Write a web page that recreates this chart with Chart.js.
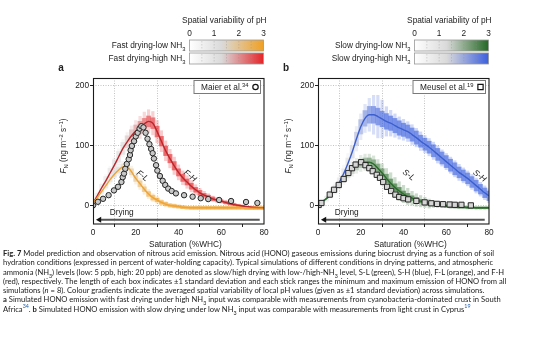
<!DOCTYPE html>
<html>
<head>
<meta charset="utf-8">
<script src="https://cdn.jsdelivr.net/npm/chart.js@4.4.1/dist/chart.umd.min.js"></script>
<style>
    body { margin: 0; background: #fff; width: 554px; height: 339px; overflow: hidden; position: relative; }
    canvas { position: absolute; top: 0; }
    #panelA { left: 52px; }
    #panelB { left: 277px; }
    .caption {
        position: absolute; left: 3px; top: 249px;
        font-family: Lato, "Noto Sans", sans-serif; font-size: 7.6px; line-height: 9.25px;
        color: #222; white-space: nowrap;
    }
    .caption sub, .caption sup { font-size: 70%; line-height: 0; }
    .caption .ref { color: #1d5fb0; }
</style>
</head>
<body>
<canvas id="panelA" width="226" height="250"></canvas>
<canvas id="panelB" width="226" height="250"></canvas>
<div class="caption">
<b>Fig. 7</b> Model prediction and observation of nitrous acid emission. Nitrous acid (HONO) gaseous emissions during biocrust drying as a function of soil<br>
hydration conditions (expressed in percent of water-holding capacity). Typical simulations of different conditions in drying patterns, and atmospheric<br>
ammonia (NH<sub>3</sub>) levels (low: 5 ppb, high: 20 ppb) are denoted as slow/high drying with low-/high-NH<sub>3</sub> level, S-L (green), S-H (blue), F-L (orange), and F-H<br>
(red), respectively. The length of each box indicates ±1 standard deviation and each stick ranges the minimum and maximum emission of HONO from all<br>
simulations (<i>n</i> = 8). Colour gradients indicate the averaged spatial variability of local pH values (given as ±1 standard deviation) across simulations.<br>
<b>a</b> Simulated HONO emission with fast drying under high NH<sub>3</sub> input was comparable with measurements from cyanobacteria-dominated crust in South<br>
Africa<sup class="ref">34</sup>. <b>b</b> Simulated HONO emission with slow drying under low NH<sub>3</sub> input was comparable with measurements from light crust in Cyprus<sup class="ref">19</sup>
</div>
<script>
const FONT = '"Liberation Sans", Arial, sans-serif';
const INK = '#222';

// saturation (%WHC) of each simulated output step
const sat = [0, 2, 4, 6, 8, 10, 12, 14, 16, 18, 20, 22, 24, 26, 28, 30, 32, 34, 36, 38, 40,
    42, 44, 46, 48, 50, 52, 54, 56, 58, 60, 62, 64, 66, 68, 70, 72, 74, 76, 78, 80];

// fast drying, low NH3 (F-L): mean flux, box half-length (sd), stick half-length, pH variability
const flMean = [5, 14, 24, 34, 44, 53, 60, 65, 65, 57, 46, 37, 28, 20, 14, 10, 6, 3, 1, 0, -1,
    -2, -2.5, -3, -3, -3, -3, -3, -3, -3, -3, -3, -3, -3, -3, -3, -3.5, -3.5, -3.5, -3.5, -3.5];
const flSd = [1, 2, 3, 4, 4, 5, 5, 5, 5, 5, 5, 5, 4, 4, 4, 3, 3, 3, 2.5, 2.5, 2.5,
    2.5, 2.5, 2.5, 2.5, 2.5, 2.5, 2.5, 2.5, 2.5, 2.5, 2.5, 2.5, 2.5, 2.5, 2.5, 2.5, 2.5, 2.5, 2.5, 2.5];
const flSpan = [2, 4, 6, 7, 8, 9, 10, 10, 10, 10, 10, 10, 9, 8, 7, 6, 5, 5, 4, 4, 3,
    3, 3, 3, 3, 3, 3, 3, 3, 3, 3, 3, 3, 3, 3, 3, 3, 3, 3, 3, 3];
const flPh = [0.8, 0.9, 1.0, 1.1, 1.2, 1.3, 1.4, 1.5, 1.6, 1.8, 2.0, 2.2, 2.4, 2.6, 2.8, 3, 3, 3, 3, 3, 3,
    3, 3, 3, 3, 3, 3, 3, 3, 3, 3, 3, 3, 3, 3, 3, 3, 3, 3, 3, 3];

// fast drying, high NH3 (F-H)
const fhMean = [5, 17, 30, 42, 55, 68, 82, 96, 107, 117, 125, 131, 137, 141, 138, 124, 108, 92, 79, 67, 56,
    47, 40, 33, 27, 22, 18, 15, 12, 10, 8, 6, 4, 2.5, 1, 0, -1, -2, -2.5, -3, -3];
const fhSd = [2, 4, 6, 7, 8, 9, 9, 10, 10, 10, 10, 10, 9, 9, 9, 9, 8, 8, 7, 7, 6,
    6, 5, 5, 4, 4, 3, 3, 3, 2, 2, 2, 2, 1.5, 1.5, 1.5, 1, 1, 1, 1, 1];
const fhSpan = [3, 6, 9, 11, 12, 13, 14, 15, 16, 17, 18, 19, 20, 20, 20, 19, 18, 17, 16, 15, 13,
    12, 11, 10, 9, 8, 7, 6, 5, 5, 4, 4, 3, 3, 2.5, 2, 2, 2, 2, 2, 2];
const fhPh = [0.6, 0.7, 0.8, 0.9, 1.0, 1.1, 1.2, 1.3, 1.5, 1.7, 2.0, 2.3, 2.5, 2.7, 2.8, 2.9, 3, 3, 3, 3, 3,
    3, 3, 3, 3, 3, 3, 3, 3, 3, 3, 3, 3, 3, 3, 3, 3, 3, 3, 3, 3];

// slow drying, low NH3 (S-L)
const slMean = [3, 7, 13, 20, 28, 36, 45, 53, 61, 67, 71, 73, 73, 70, 63, 55, 46, 38, 31, 25, 20,
    16, 13, 10, 8, 6, 4, 3, 2, 1, 0, -1, -1.5, -2, -2, -2.5, -2.5, -3, -3, -3, -3];
const slSd = [1, 2, 3, 4, 5, 5, 6, 6, 7, 7, 7, 7, 7, 7, 7, 7, 7, 7, 6, 6, 5,
    5, 4, 4, 3, 3, 3, 2, 2, 2, 2, 2, 1.5, 1.5, 1.5, 1.5, 1.5, 1.5, 1.5, 1.5, 1.5];
const slSpan = [2, 3, 5, 6, 8, 9, 10, 11, 12, 13, 14, 14, 14, 14, 15, 16, 17, 18, 17, 16, 15,
    14, 12, 11, 10, 9, 8, 6, 5, 4, 3, 3, 3, 3, 3, 3, 3, 3, 3, 3, 3];
const slPh = [0.6, 0.7, 0.8, 0.9, 1.0, 1.1, 1.2, 1.4, 1.6, 1.8, 2.0, 2.2, 2.4, 2.5, 2.6, 2.7, 2.8, 2.9, 3, 3, 3,
    3, 3, 3, 3, 3, 3, 3, 3, 3, 3, 3, 3, 3, 3, 3, 3, 3, 3, 3, 3];

// slow drying, high NH3 (S-H)
const shMean = [5, 8, 12, 20, 29, 40, 54, 71, 90, 112, 132, 146, 152, 152, 149, 145, 141, 138, 134, 130, 127,
    124, 119, 114, 108, 103, 98, 92, 86, 80, 74, 68, 62, 56, 51, 46, 40, 34, 28, 22, 17];
const shSd = [2, 3, 4, 5, 6, 7, 8, 9, 10, 11, 12, 13, 14, 14, 14, 13, 13, 12, 12, 12, 11,
    11, 11, 11, 10, 10, 10, 10, 10, 10, 10, 10, 10, 9, 9, 9, 9, 9, 8, 8, 8];
const shSpan = [3, 5, 7, 9, 11, 13, 15, 17, 19, 21, 22, 24, 28, 33, 36, 32, 25, 22, 20, 19, 18,
    17, 17, 16, 16, 15, 15, 15, 15, 14, 14, 14, 14, 14, 13, 13, 13, 13, 12, 12, 12];
const shPh = [0.4, 0.5, 0.6, 0.7, 0.8, 0.9, 1.0, 1.2, 1.4, 1.7, 2.0, 2.3, 2.5, 2.7, 2.8, 2.9, 3, 3, 3, 3, 3,
    3, 3, 3, 3, 3, 3, 3, 3, 3, 3, 3, 3, 3, 3, 3, 3, 3, 3, 3, 3];

// measured HONO flux, cyanobacteria-dominated crust (Maier et al.)
const maierSat = [0, 2.3, 4.7, 7.3, 9.8, 11.7, 13.3, 13.9, 14.5, 15.1, 15.8, 16.7, 17.3, 17.6, 18.2, 19.2,
    20, 20.9, 21.8, 22.6, 23.6, 24.6, 25.5, 26.4, 27.2, 27.9, 28.5, 29.5, 30.1, 31.3, 32.6, 33.8,
    35.2, 36.8, 38.8, 42.6, 46.6, 50.4, 53.9, 59, 64.6, 71.6, 76.9];
const maierFlux = [1, 7, 12, 18, 26, 32, 40, 48, 54, 62, 70, 78, 85, 93, 100, 108,
    116, 122, 129, 133, 131, 122, 112, 103, 95, 88, 79, 68, 59, 50, 42, 35,
    29, 25, 21, 18, 15.5, 13, 11.5, 10, 8.3, 6.7, 5];

// measured HONO flux, light crust (Meusel et al.)
const meuselSat = [0.3, 1.6, 5.5, 7.5, 9.7, 12, 14.2, 15.9, 17.6, 20.2, 22.2, 24, 25.6, 27.5, 29, 30.5,
    32.3, 34.2, 36.2, 38, 40, 42.2, 46, 49.9, 53, 55.7, 58.5, 61.6, 64, 67.1, 71.5];
const meuselFlux = [1.7, 5, 19, 27, 35, 45, 55, 63, 69, 73, 68, 63, 58, 52, 47, 40,
    32, 25, 19, 15, 13, 11, 8.5, 6, 4.5, 3.5, 3, 2.5, 2, 2, 1];

const satTicks = [0, 20, 40, 60, 80];
const fluxTicks = [0, 100, 200];
const phTicks = [0, 1, 2, 3];
const dryingArrow = [78, 3];   // saturation where the drying arrow starts / ends
const dryingLevel = -23;

const PH_GREY = [218, 218, 218];
const PH_GREY_AT = 1.3;

/**
 * Colour of a box for a given spatial pH variability (0-3)
 */
function phColour(full, v, alpha) {
    let rgb;
    if (v <= PH_GREY_AT) {
        const t = v / PH_GREY_AT;
        rgb = [0, 1, 2].map(k => 255 + (PH_GREY[k] - 255) * t);
    } else {
        const t = (v - PH_GREY_AT) / (3 - PH_GREY_AT);
        rgb = [0, 1, 2].map(k => PH_GREY[k] + (full[k] - PH_GREY[k]) * t);
    }
    return `rgba(${rgb.map(Math.round).join(',')},${alpha})`;
}

function partFont(p, size) {
    const s = (p.sub || p.sup) ? size * 0.7 : size;
    return `${p.italic ? 'italic ' : ''}${p.bold ? 'bold ' : ''}${s}px ${FONT}`;
}

/**
 * Draw text with sub/superscript pieces on one baseline
 */
function drawRich(ctx, parts, x, y, size, align) {
    let w = 0;
    parts.forEach(p => { ctx.font = partFont(p, size); w += ctx.measureText(p.t).width; });
    let cx = align === 'right' ? x - w : (align === 'center' ? x - w / 2 : x);
    ctx.textAlign = 'left';
    ctx.textBaseline = 'alphabetic';
    parts.forEach(p => {
        ctx.font = partFont(p, size);
        const dy = p.sub ? size * 0.28 : (p.sup ? -size * 0.38 : 0);
        ctx.fillText(p.t, cx, y + dy);
        cx += ctx.measureText(p.t).width;
    });
    return w;
}

class HonoPanel {
    constructor(canvasId, options = {}) {
        this.canvasId = canvasId;
        this.canvas = document.getElementById(canvasId);
        this.options = {
            fontSize: 8.3,
            ...options
        };
        this.chart = null;
    }

    /**
     * Floating bars (box or stick) around the mean curve
     */
    rangeBars(sim, half, alpha, thickness, order) {
        return {
            type: 'bar',
            data: sat.map((x, i) => ({ x: x, y: [sim.mean[i] - half[i], sim.mean[i] + half[i]] })),
            backgroundColor: sim.ph.map(v => phColour(sim.colour, v, alpha)),
            borderWidth: 0,
            grouped: false,
            barPercentage: thickness,
            categoryPercentage: 1,
            order: order
        };
    }

    meanLine(sim) {
        return {
            type: 'line',
            data: sat.map((x, i) => ({ x: x, y: sim.mean[i] })),
            borderColor: sim.line,
            borderWidth: 1.4,
            pointRadius: 0,
            cubicInterpolationMode: 'monotone',
            order: 2
        };
    }

    init() {
        if (!this.canvas) {
            console.error('[HonoPanel] Canvas not found:', this.canvasId);
            return false;
        }
        const o = this.options;
        const datasets = [];

        o.sims.forEach(sim => datasets.push(this.rangeBars(sim, sim.span, 0.24, 0.75, 6)));
        o.sims.forEach(sim => datasets.push(this.rangeBars(sim, sim.sd, 0.6, 1, 5)));
        o.sims.forEach(sim => datasets.push(this.meanLine(sim)));

        datasets.push({
            type: 'scatter',
            data: o.obs.x.map((x, i) => ({ x: x, y: o.obs.y[i] })),
            pointStyle: o.obs.style,
            pointRadius: o.obs.radius,
            pointBackgroundColor: o.obs.fill,
            pointBorderColor: '#262626',
            pointBorderWidth: 1,
            order: 1
        });

        // drying direction arrow along the bottom
        datasets.push({
            type: 'line',
            data: dryingArrow.map(x => ({ x: x, y: dryingLevel })),
            borderColor: '#555',
            borderWidth: 2,
            pointStyle: 'triangle',
            pointRadius: [0, 3.5],
            pointRotation: [0, -90],
            pointBackgroundColor: '#111',
            pointBorderWidth: 0,
            order: 0
        });

        this.chart = new Chart(this.canvas, {
            type: 'bar',
            data: { datasets: datasets },
            options: this.getOptions(),
            plugins: [this.decorations()]
        });
        console.log('[HonoPanel] Initialized', this.canvasId);
        return true;
    }

    getOptions() {
        const fs = this.options.fontSize;
        const hideEdge = ctx => (ctx.tick && (ctx.tick.value === 0 || ctx.tick.value === 80))
            ? 'rgba(0,0,0,0)' : '#b4b4b4';
        return {
            responsive: false,
            animation: false,
            events: [],
            layout: { padding: { left: 0, top: 78, right: 14, bottom: 0 } },
            plugins: { legend: { display: false }, tooltip: { enabled: false } },
            scales: {
                x: {
                    type: 'linear', min: 0, max: 80, offset: false,
                    afterBuildTicks: s => { s.ticks = satTicks.map(v => ({ value: v })); },
                    afterFit: s => { s.height = 26; },
                    grid: { color: hideEdge, lineWidth: 0.8, tickColor: INK, tickLength: 3, tickWidth: 1 },
                    border: { display: false, dash: [1, 1.5] },
                    ticks: { font: { family: FONT, size: fs }, color: INK, padding: 1, maxRotation: 0 }
                },
                y: {
                    min: -30, max: 213.3,
                    afterBuildTicks: s => { s.ticks = fluxTicks.map(v => ({ value: v })); },
                    afterFit: s => { s.width = 41; },
                    grid: { color: '#b4b4b4', lineWidth: 0.8, tickColor: INK, tickLength: 3, tickWidth: 1 },
                    border: { display: false, dash: [1, 1.5] },
                    ticks: { font: { family: FONT, size: fs }, color: INK, padding: 1 }
                }
            }
        };
    }

    /**
     * Frame, labels, legend box and pH colour bars
     */
    decorations() {
        const o = this.options;
        const fs = o.fontSize;
        return {
            id: 'decorations',
            afterDraw: chart => {
                const ctx = chart.ctx;
                const a = chart.chartArea;
                const xs = chart.scales.x;
                const ys = chart.scales.y;
                ctx.save();
                ctx.fillStyle = INK;

                // plot frame
                ctx.strokeStyle = '#1a1a1a';
                ctx.lineWidth = 1.1;
                ctx.strokeRect(a.left + 0.5, a.top + 0.5, a.right - a.left - 0.5, a.bottom - a.top - 0.5);

                // curve labels
                o.sims.forEach(sim => {
                    ctx.save();
                    ctx.translate(xs.getPixelForValue(sim.labelAt[0]), ys.getPixelForValue(sim.labelAt[1]));
                    ctx.rotate(38 * Math.PI / 180);
                    ctx.font = `italic ${fs}px ${FONT}`;
                    ctx.textAlign = 'center';
                    ctx.textBaseline = 'middle';
                    ctx.fillText(sim.name, 0, 0);
                    ctx.restore();
                });

                // drying label
                ctx.font = `${fs}px ${FONT}`;
                ctx.textAlign = 'center';
                ctx.textBaseline = 'middle';
                ctx.fillText('Drying', xs.getPixelForValue(13.4), ys.getPixelForValue(-12));

                // observation legend box
                const parts = [{ t: o.obs.label }, { t: o.obs.ref, sup: true }];
                let tw = 0;
                parts.forEach(p => { ctx.font = partFont(p, fs); tw += ctx.measureText(p.t).width; });
                const bx1 = a.right - 3.5;
                const bx0 = bx1 - (7 + tw + 12);
                const by0 = a.top + 2.5;
                ctx.fillStyle = '#fff';
                ctx.fillRect(bx0, by0, bx1 - bx0, 13);
                ctx.strokeStyle = '#7a7a7a';
                ctx.lineWidth = 1;
                ctx.strokeRect(bx0, by0, bx1 - bx0, 13);
                ctx.fillStyle = INK;
                drawRich(ctx, parts, bx0 + 7, by0 + 9.6, fs, 'left');
                ctx.fillStyle = '#fff';
                ctx.strokeStyle = '#111';
                ctx.lineWidth = 1.2;
                ctx.beginPath();
                if (o.obs.style === 'circle') {
                    ctx.arc(bx1 - 5, by0 + 6.5, o.obs.radius, 0, Math.PI * 2);
                } else {
                    const h = o.obs.radius * Math.SQRT1_2;
                    ctx.rect(bx1 - 5 - h, by0 + 6.5 - h, 2 * h, 2 * h);
                }
                ctx.fill();
                ctx.stroke();

                // axis titles
                ctx.fillStyle = INK;
                ctx.font = `${fs}px ${FONT}`;
                ctx.textAlign = 'center';
                ctx.textBaseline = 'middle';
                ctx.fillText('Saturation (%WHC)', (a.left + a.right) / 2 + 6.8, 244.5);

                ctx.save();
                ctx.translate(a.left - 30, 146);
                ctx.rotate(-Math.PI / 2);
                drawRich(ctx, [
                    { t: 'F', italic: true }, { t: 'N', sub: true }, { t: ' (ng m' }, { t: '\u22122', sup: true },
                    { t: ' s' }, { t: '\u22121', sup: true }, { t: ')' }
                ], 0, 3, fs, 'center');
                ctx.restore();

                // panel letter
                ctx.font = `bold 10px ${FONT}`;
                ctx.textAlign = 'center';
                ctx.textBaseline = 'middle';
                ctx.fillText(o.letter, a.left - 32, 68);

                // spatial pH variability colour bars
                const barR = a.right - 0.5;
                const barW = 74;
                const barL = barR - barW;
                ctx.font = `${fs}px ${FONT}`;
                ctx.textAlign = 'right';
                ctx.textBaseline = 'middle';
                ctx.fillText('Spatial variability of pH', a.right + 2.5, 21);
                ctx.textAlign = 'center';
                phTicks.forEach(v => ctx.fillText(String(v), barL + v / 3 * barW, 34));

                o.sims.forEach((sim, k) => {
                    const top = 40 + k * 13;
                    const g = ctx.createLinearGradient(barL, 0, barR, 0);
                    g.addColorStop(0, '#ffffff');
                    g.addColorStop(PH_GREY_AT / 3, `rgb(${PH_GREY.join(',')})`);
                    g.addColorStop(1, `rgb(${sim.colour.join(',')})`);
                    ctx.fillStyle = g;
                    ctx.fillRect(barL, top, barW, 11);
                    ctx.strokeStyle = 'rgba(140,140,140,0.55)';
                    ctx.lineWidth = 0.6;
                    ctx.setLineDash([1.5, 1.5]);
                    [0.5, 1, 1.5, 2, 2.5].forEach(v => {
                        const x = barL + v / 3 * barW;
                        ctx.beginPath();
                        ctx.moveTo(x, top + 1);
                        ctx.lineTo(x, top + 10);
                        ctx.stroke();
                    });
                    ctx.setLineDash([]);
                    ctx.strokeStyle = '#9a9a9a';
                    ctx.lineWidth = 0.8;
                    ctx.strokeRect(barL, top, barW, 11);
                    ctx.fillStyle = INK;
                    drawRich(ctx, [{ t: sim.legend }, { t: '3', sub: true }], barL - 4, top + 8.3, fs, 'right');
                });

                ctx.restore();
            }
        };
    }
}

Chart.defaults.font.family = FONT;

const panelA = new HonoPanel('panelA', {
    letter: 'a',
    sims: [
        { name: 'F-L', mean: flMean, sd: flSd, span: flSpan, ph: flPh, colour: [240, 160, 35],
          line: '#eea436', legend: 'Fast drying-low NH', labelAt: [23.1, 50] },
        { name: 'F-H', mean: fhMean, sd: fhSd, span: fhSpan, ph: fhPh, colour: [228, 36, 40],
          line: '#b9272c', legend: 'Fast drying-high NH', labelAt: [45.4, 50] }
    ],
    obs: { label: 'Maier et al.', ref: '34', x: maierSat, y: maierFlux, style: 'circle', radius: 2.7, fill: '#c8c8c8' }
});
panelA.init();

const panelB = new HonoPanel('panelB', {
    letter: 'b',
    sims: [
        { name: 'S-L', mean: slMean, sd: slSd, span: slSpan, ph: slPh, colour: [36, 104, 36],
          line: '#2a6a2a', legend: 'Slow drying-low NH', labelAt: [42.4, 51.5] },
        { name: 'S-H', mean: shMean, sd: shSd, span: shSpan, ph: shPh, colour: [60, 96, 222],
          line: '#3c5fcf', legend: 'Slow drying-high NH', labelAt: [75.6, 50] }
    ],
    obs: { label: 'Meusel et al.', ref: '19', x: meuselSat, y: meuselFlux, style: 'rect', radius: 3.7, fill: '#d6d6d6' }
});
panelB.init();
</script>
</body>
</html>
